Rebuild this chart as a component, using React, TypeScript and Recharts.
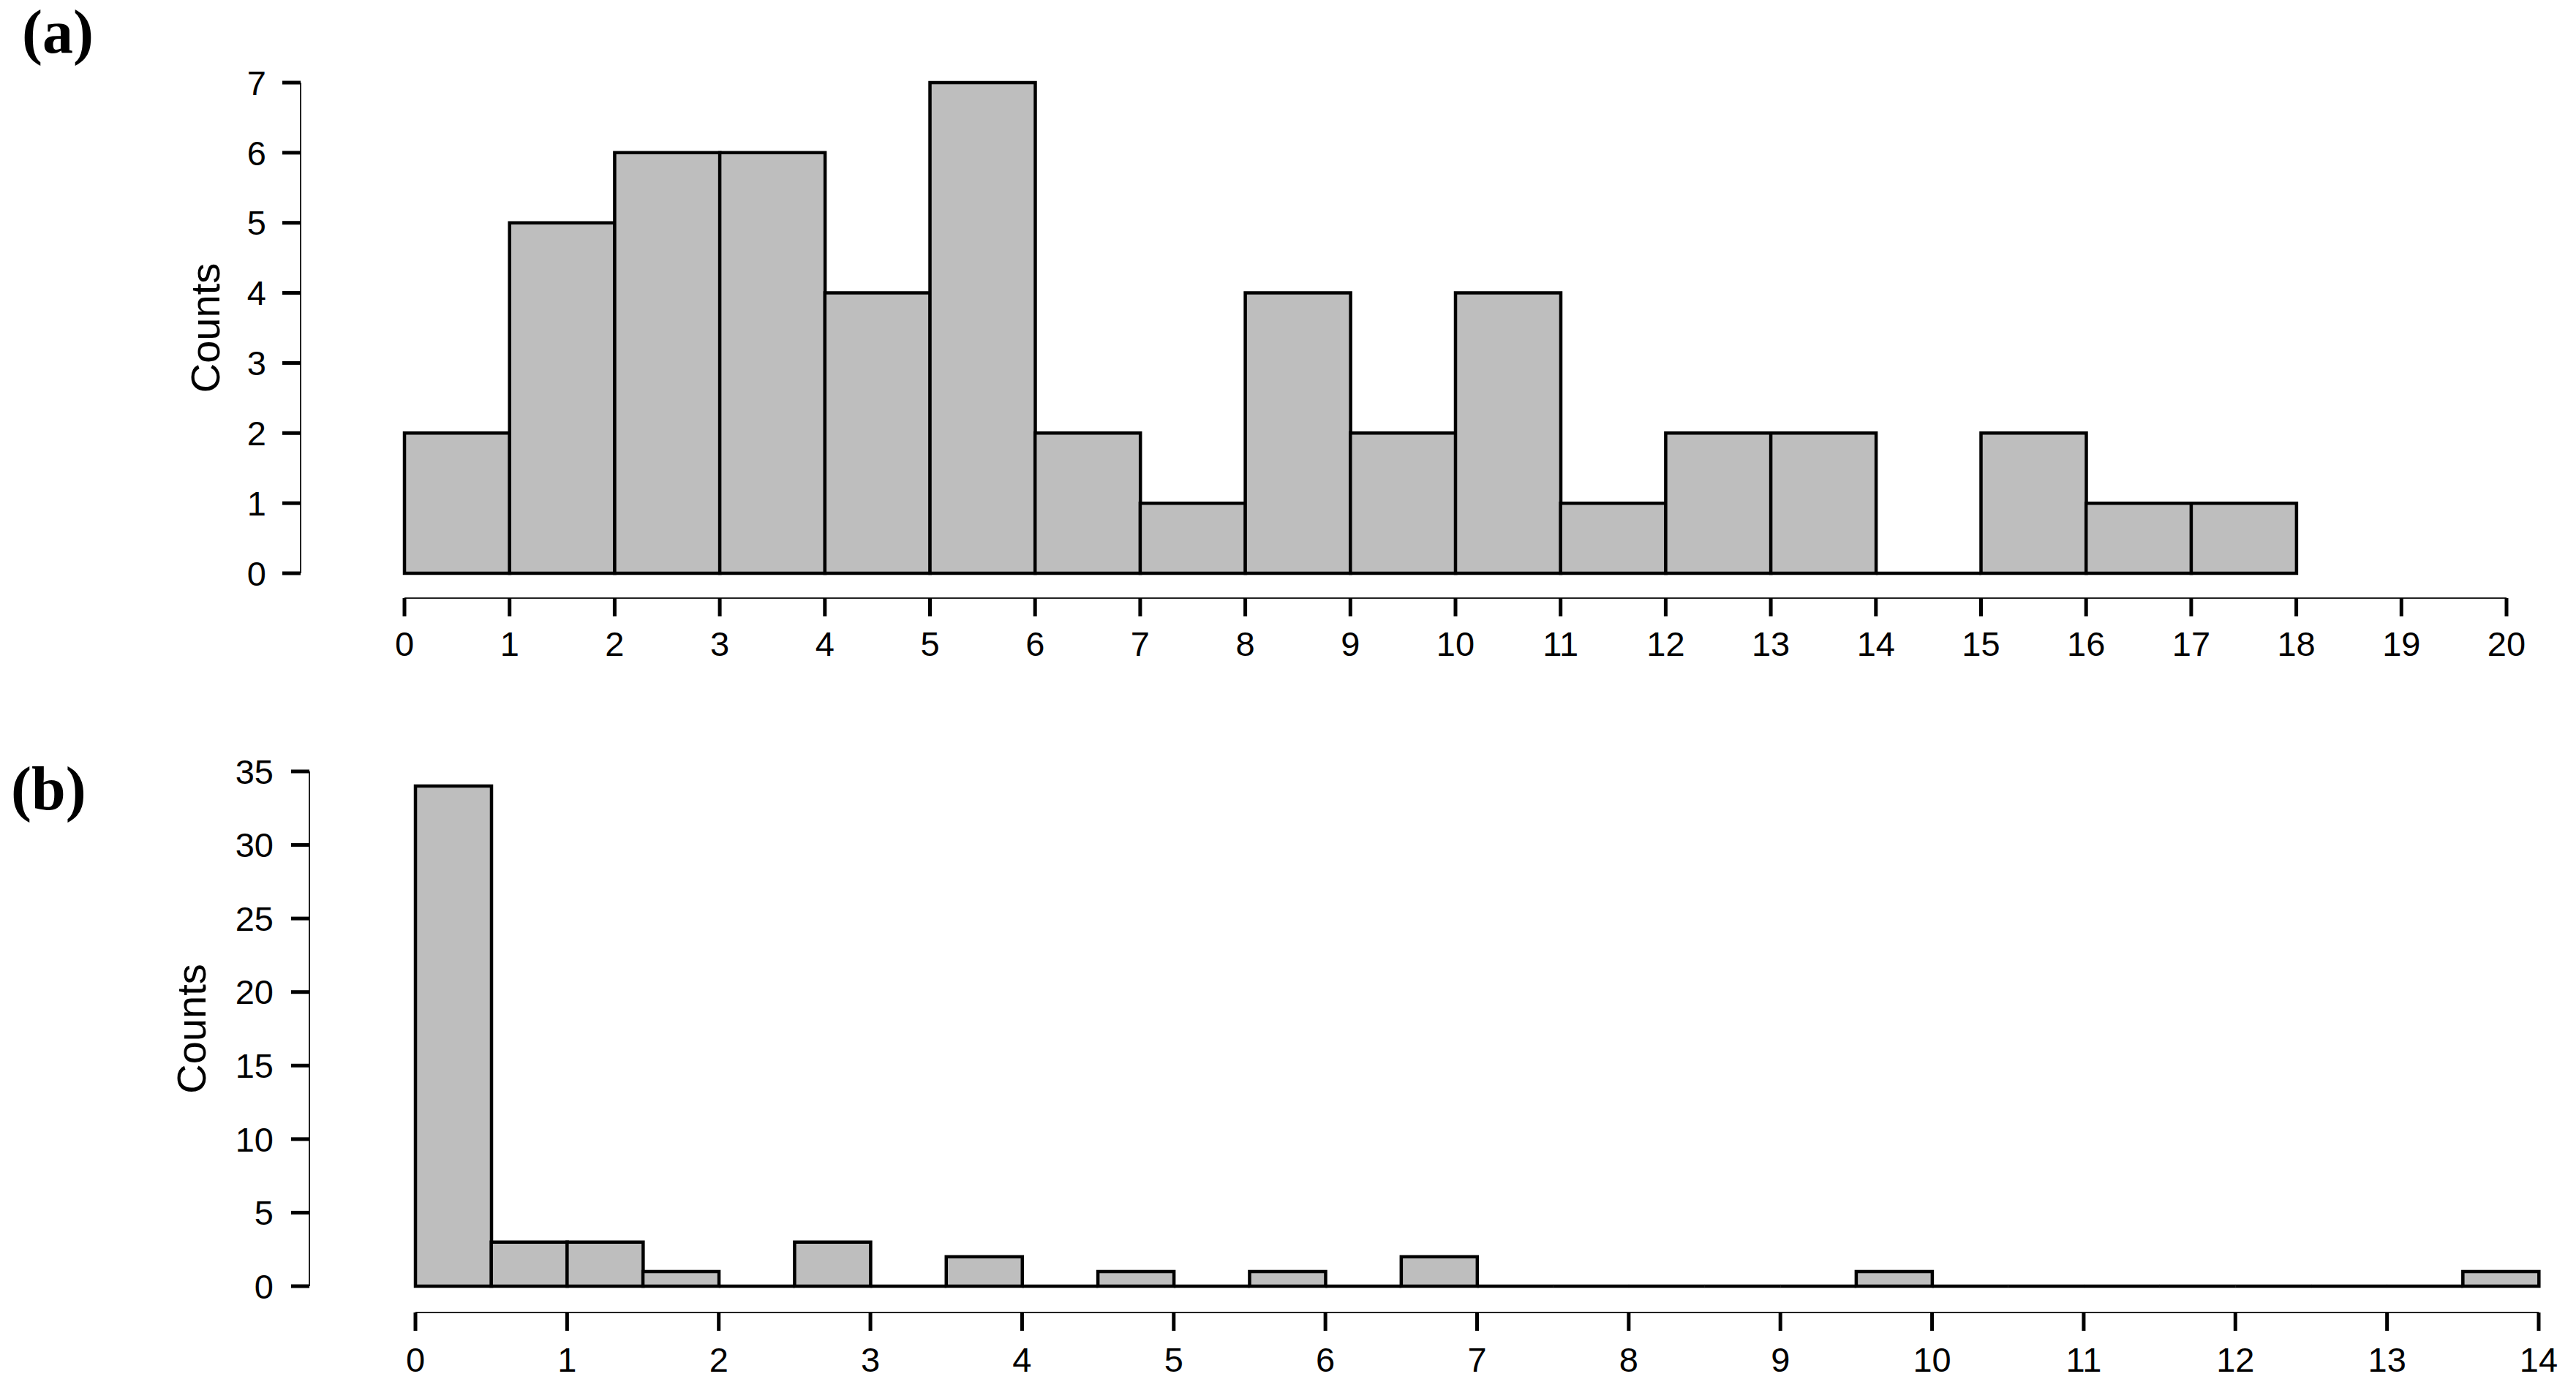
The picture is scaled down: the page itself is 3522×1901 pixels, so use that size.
// @ts-nocheck
import { BarChart, Bar, XAxis, YAxis } from "recharts";

// panel (a): bins of width 1
const binStartsA = [0, 1, 2, 3, 4, 5, 6, 7, 8, 9, 10, 11, 12, 13, 14, 15, 16, 17, 18, 19];
const countsA = [2, 5, 6, 6, 4, 7, 2, 1, 4, 2, 4, 1, 2, 2, 0, 2, 1, 1];
const xTicksA = [0, 1, 2, 3, 4, 5, 6, 7, 8, 9, 10, 11, 12, 13, 14, 15, 16, 17, 18, 19, 20];
const yTicksA = [0, 1, 2, 3, 4, 5, 6, 7];

// panel (b): bins of width 0.5
const binStartsB = [0, 0.5, 1, 1.5, 2, 2.5, 3, 3.5, 4, 4.5, 5, 5.5, 6, 6.5, 7, 7.5, 8, 8.5, 9, 9.5, 10, 10.5, 11, 11.5, 12, 12.5, 13, 13.5];
const countsB = [34, 3, 3, 1, 0, 3, 0, 2, 0, 1, 0, 1, 0, 2, 0, 0, 0, 0, 0, 1, 0, 0, 0, 0, 0, 0, 0, 1];
const xTicksB = [0, 1, 2, 3, 4, 5, 6, 7, 8, 9, 10, 11, 12, 13, 14];
const yTicksB = [0, 5, 10, 15, 20, 25, 30, 35];

const SANS = "'Liberation Sans', Arial, Helvetica, sans-serif";
const SERIF = "'Liberation Serif', 'Times New Roman', serif";

// zero-count bins still get their outline (flat line), empty bins draw nothing
const HistBar = (props) => {
  const { x, y, width, height, payload } = props;
  if (payload == null || payload.count == null) return <g />;
  return (
    <path
      d={`M${x},${y}h${width}v${height}h${-width}Z`}
      fill="#bebebe"
      stroke="#000"
      strokeWidth={4.5}
    />
  );
};

const Histogram = ({ starts, counts, xTicks, yTicks, height, margin, yWidth, xHeight, yShift, xShift, yTickMargin, xTickMargin, countsX }) => {
  const data = starts.map((start, i) => ({ start, count: i < counts.length ? counts[i] : null }));
  return (
    <BarChart width={3522} height={height} data={data} margin={margin} barCategoryGap={0} barGap={0}>
      <XAxis
        xAxisId="num"
        dataKey="start"
        type="number"
        domain={[xTicks[0], xTicks[xTicks.length - 1]]}
        ticks={xTicks}
        interval={0}
        height={xHeight}
        tickSize={25}
        tickMargin={xTickMargin}
        axisLine={{ stroke: "#222", strokeWidth: 2, transform: `translate(0, ${xShift})` }}
        tickLine={{ stroke: "#000", strokeWidth: 5, transform: `translate(0, ${xShift})` }}
        tick={({ x, y, payload }) => (
          <text x={x} y={y + xShift} dy="0.355em" textAnchor="middle" fontFamily={SANS} fontSize={47} fill="#000">
            {payload.value}
          </text>
        )}
      />
      <XAxis xAxisId="bins" dataKey="start" type="category" height={0} hide />
      <YAxis
        type="number"
        domain={[yTicks[0], yTicks[yTicks.length - 1]]}
        ticks={yTicks}
        interval={0}
        width={yWidth}
        tickSize={25}
        tickMargin={yTickMargin}
        axisLine={{ stroke: "#222", strokeWidth: 2, transform: `translate(${-yShift}, 0)` }}
        tickLine={{ stroke: "#000", strokeWidth: 5, transform: `translate(${-yShift}, 0)` }}
        tick={({ x, y, payload }) => (
          <text x={x - yShift} y={y} dy="0.355em" textAnchor="end" fontFamily={SANS} fontSize={47} fill="#000">
            {payload.value}
          </text>
        )}
        label={{
          position: "center",
          content: ({ viewBox }) => {
            const cy = viewBox.y + viewBox.height / 2;
            return (
              <text
                x={countsX}
                y={cy}
                dy="0.355em"
                textAnchor="middle"
                transform={`rotate(-90, ${countsX}, ${cy})`}
                fontFamily={SANS}
                fontSize={56}
                fill="#000"
              >
                Counts
              </text>
            );
          },
        }}
      />
      <Bar xAxisId="bins" dataKey="count" shape={HistBar} isAnimationActive={false} />
    </BarChart>
  );
};

const tagStyle = {
  position: "absolute",
  fontFamily: SERIF,
  fontWeight: "bold",
  fontSize: 84,
  lineHeight: "84px",
  color: "#000",
};

export default function App() {
  return (
    <div style={{ position: "absolute", left: 0, top: 0, width: 3522, height: 1901, background: "#fff", overflow: "hidden" }}>
      <div style={{ position: "absolute", left: 0, top: 0 }}>
        <Histogram
          starts={binStartsA}
          counts={countsA}
          xTicks={xTicksA}
          yTicks={yTicksA}
          height={950}
          margin={{ top: 113, right: 95, left: 0, bottom: 0 }}
          yWidth={553}
          xHeight={166}
          yShift={142}
          xShift={34}
          yTickMargin={22}
          xTickMargin={37}
          countsX={280}
        />
      </div>
      <div style={{ position: "absolute", left: 0, top: 950 }}>
        <Histogram
          starts={binStartsB}
          counts={countsB}
          xTicks={xTicksB}
          yTicks={yTicksB}
          height={951}
          margin={{ top: 105, right: 51, left: 0, bottom: 0 }}
          yWidth={568}
          xHeight={142}
          yShift={145}
          xShift={36}
          yTickMargin={24}
          xTickMargin={39}
          countsX={261}
        />
      </div>
      <div style={{ ...tagStyle, left: 30, top: 2 }}>(a)</div>
      <div style={{ ...tagStyle, left: 15, top: 1037 }}>(b)</div>
    </div>
  );
}
